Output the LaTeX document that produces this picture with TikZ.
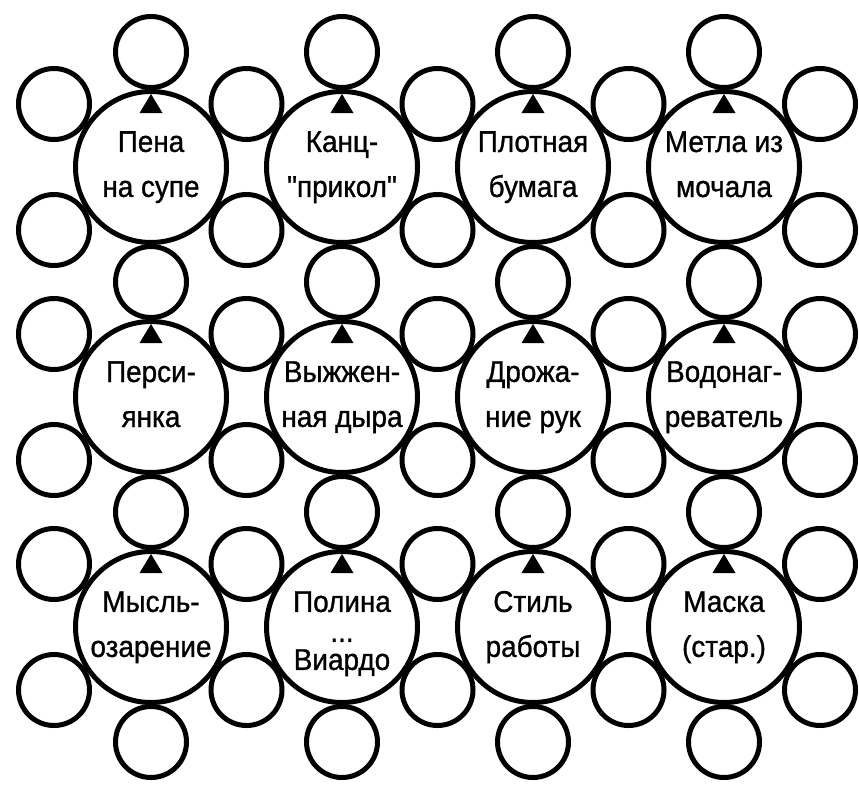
\documentclass[tikz,border=0pt]{standalone}
\usepackage{fontspec}
\setmainfont[FakeStretch=0.93,FakeBold=1,Ligatures=TeXOff]{Liberation Sans}
\newcommand\mytop{\rule{0pt}{21pt}}
\newcommand\mybot{\rule[-6pt]{0pt}{6pt}}
\begin{document}
\begin{tikzpicture}[x=1pt,y=-1pt,line width=5pt,
  bigc/.style={circle,draw,minimum size=151pt,inner sep=0pt},
  smallc/.style={circle,draw,minimum size=71pt,inner sep=0pt},
  lbl/.style={align=center,font=\fontsize{30}{45}\selectfont,inner sep=0pt}]
\useasboundingbox (0,0) rectangle (859,787);
% big circles and triangles
\foreach \r/\y in {1/167,2/397,3/627}{
  \foreach \c/\x in {1/151,2/342,3/533,4/724}{
    \node[bigc] (b\r\c) at (\x,\y) {};
    \fill (\x-11.5,\y-54) -- (\x+11.5,\y-54) -- (\x,\y-73) -- cycle;
  }
  % side circles
  \foreach \i/\x in {0/54,1/246.5,2/437.5,3/628.5,4/820}{
    \node[smallc] (su\r\i) at (\x,\y-63) {};
    \node[smallc] (sd\r\i) at (\x,\y+63) {};
  }
}
% top/bottom circles
\foreach \c/\x in {1/151,2/342,3/533,4/724}{
  \foreach \j/\y in {0/52,1/282,2/512,3/742}{
    \node[smallc] (sv\c\j) at (\x,\y) {};
  }
}
% labels
\node[lbl] (t11) at (b11) {\mytop Пена\\на супе\mybot};
\node[lbl] (t12) at (b12) {\mytop Канц-\\"прикол"\mybot};
\node[lbl] (t13) at (b13) {\mytop Плотная\\бумага\mybot};
\node[lbl] (t14) at (b14) {\mytop Метла из\\мочала\mybot};
\node[lbl] (t21) at (b21) {\mytop Перси-\\янка\mybot};
\node[lbl] (t22) at (b22) {\mytop Выжжен-\\ная дыра\mybot};
\node[lbl] (t23) at (b23) {\mytop Дрожа-\\ние рук\mybot};
\node[lbl] (t24) at (b24) {\mytop Водонаг-\\реватель\mybot};
\node[lbl] (t31) at (b31) {\mytop Мысль-\\озарение\mybot};
\node[lbl] (t32) at ([yshift=-6.5pt]b32.center) {\mytop Полина\\[-15pt]...\\[-17pt]Виардо\mybot};
\node[lbl] (t33) at (b33) {\mytop Стиль\\работы\mybot};
\node[lbl] (t34) at (b34) {\mytop Маска\\(стар.)\mybot};
\end{tikzpicture}
\end{document}
